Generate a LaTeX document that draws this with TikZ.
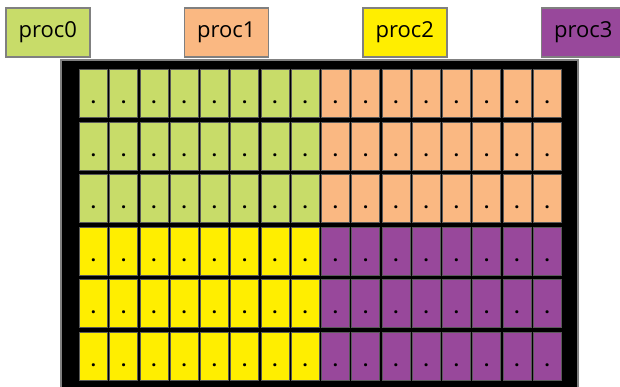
\documentclass[tikz,border=0pt]{standalone}
\usepackage{fontspec}
\setmainfont{Open Sans}
\definecolor{pgreen}{RGB}{200,220,105}
\definecolor{porange}{RGB}{250,184,130}
\definecolor{pyellow}{RGB}{255,238,0}
\definecolor{ppurple}{RGB}{152,72,155}
\begin{document}
\begin{tikzpicture}[x=1pt,y=-1pt,
  lbl/.style={draw=gray, line width=1.5pt, minimum width=84pt, minimum height=49pt, inner sep=0pt, anchor=north west, font=\fontsize{22}{26}\selectfont},
  board/.style={draw=gray, line width=1.5pt, fill=black, minimum width=517pt, minimum height=335pt, inner sep=0pt, anchor=north west},
  cellbox/.style={draw=black!65, line width=0.8pt, minimum width=28pt, minimum height=48pt, inner sep=0pt, anchor=north west},
  dotlbl/.style={font=\fontsize{18}{18}\bfseries\selectfont, inner sep=0pt, anchor=base}]
\useasboundingbox (0,0) rectangle (620,386);
\clip (0,0) rectangle (620,386);
\node[lbl, fill=pgreen] (p0) at (5,7) {proc0};
\node[lbl, fill=porange] (p1) at (183.5,7) {proc1};
\node[lbl, fill=pyellow] (p2) at (362,7) {proc2};
\node[lbl, fill=ppurple] (p3) at (540.5,7) {proc3};
\node[board] (grid) at (60,59) {};
\foreach \i in {0,...,5} {
  \foreach \j in {0,...,15} {
    \ifnum\i<3
      \ifnum\j<8 \def\col{pgreen}\else\def\col{porange}\fi
    \else
      \ifnum\j<8 \def\col{pyellow}\else\def\col{ppurple}\fi
    \fi
    \node[cellbox, fill=\col] (c-\i-\j) at ({79+30.25*\j},{69+52.5*\i}) {};
    \node[dotlbl] (d-\i-\j) at ([yshift=-34.5pt]c-\i-\j.north) {.};
  }
}
\end{tikzpicture}
\end{document}
